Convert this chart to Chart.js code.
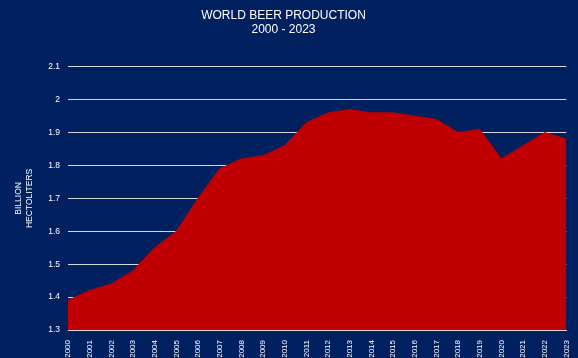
<!DOCTYPE html>
<html>
<head>
<meta charset="utf-8">
<script src="https://cdn.jsdelivr.net/npm/chart.js@4"></script>
<style>
  html, body { margin: 0; padding: 0; background: #002060; }
  #wrap { width: 578px; height: 358px; }
</style>
</head>
<body>
<div id="wrap"><canvas id="chart"></canvas></div>
<script>
let years = ['2000', '2001', '2002', '2003', '2004', '2005', '2006', '2007', '2008', '2009', '2010', '2011',
    '2012', '2013', '2014', '2015', '2016', '2017', '2018', '2019', '2020', '2021', '2022', '2023'];
let produccion = [1.39, 1.42, 1.44, 1.48, 1.55, 1.60, 1.70, 1.79, 1.82, 1.83, 1.86, 1.93,
    1.96, 1.97, 1.96, 1.96, 1.95, 1.94, 1.90, 1.91, 1.82, 1.86, 1.90, 1.88];
let tituloLineas = ['WORLD BEER PRODUCTION', '2000 - 2023'];
let ejeY = ['BILLION', 'HECTOLITERS'];

let datos = {
    labels: years,
    datasets: [
        {
            label: 'World beer production',
            data: produccion,
            fill: 'start',
            backgroundColor: '#c00000',
            borderColor: '#c00000',
            borderWidth: 1,
            tension: 0,
            pointRadius: 0,
        }
    ]
};

let opciones = {
    responsive: true,
    maintainAspectRatio: false,
    animation: false,
    layout: { padding: { left: 0, right: 11, top: 0, bottom: 0 } },
    plugins: {
        legend: { display: false },
        tooltip: { enabled: false },
        title: {
            display: true,
            text: tituloLineas,
            color: '#ffffff',
            font: { family: 'Liberation Sans, Arial, sans-serif', size: 12, weight: 'normal' },
            lineHeight: 1.5,
            padding: { top: 8, bottom: 30 }
        }
    },
    scales: {
        x: {
            offset: false,
            grid: { display: false },
            border: { display: true, color: '#d9d9d9', width: 1 },
            ticks: {
                color: '#ffffff',
                font: { family: 'Liberation Sans Narrow, Arial Narrow, Arial, sans-serif', size: 8 },
                maxRotation: 90,
                minRotation: 90,
                autoSkip: false,
                padding: 2
            },
            afterFit: (scale) => { scale.height = 28; }
        },
        y: {
            min: 1.3,
            max: 2.1,
            grid: { color: '#d9d9d9', lineWidth: 1, drawTicks: false },
            border: { display: false },
            ticks: {
                stepSize: 0.1,
                color: '#ffffff',
                font: { family: 'Liberation Sans Narrow, Arial Narrow, Arial, sans-serif', size: 8.5 },
                padding: 8,
                callback: (v) => Math.round(v * 10) / 10
            },
            title: {
                display: true,
                text: ejeY,
                color: '#ffffff',
                font: { family: 'Liberation Sans Narrow, Arial Narrow, Arial, sans-serif', size: 8.5 },
                padding: { top: 14, bottom: 14 }
            },
            afterFit: (scale) => { scale.width = 68; }
        }
    }
};

let ctx = document.getElementById('chart');

let miGrafica = new Chart(ctx, {
    type: 'line',
    data: datos,
    options: opciones
});
</script>
</body>
</html>
